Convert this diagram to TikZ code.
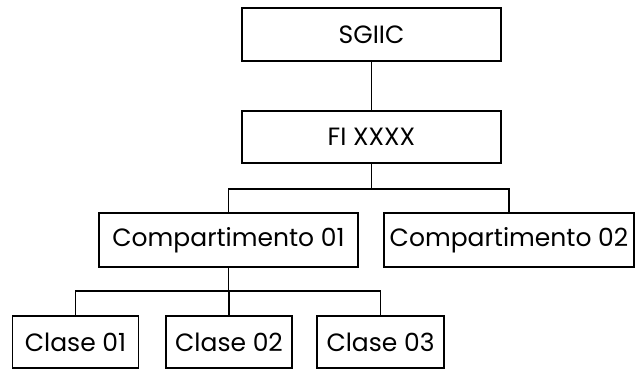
\documentclass[tikz,border=0pt]{standalone}
\usepackage{fontspec}
\setmainfont{Poppins}
\begin{document}
\begin{tikzpicture}[x=1pt,y=-1pt,
  box/.style={draw, line width=1.9pt, inner sep=0pt, anchor=center,
    font=\fontsize{25}{29}\selectfont},
  link/.style={line width=1.9pt}]
\useasboundingbox (0,0) rectangle (635,370);
% boxes
\node[box, minimum width=259pt, minimum height=53pt] (sgiic) at (371.5,34.5) {SGIIC};
\node[box, minimum width=259pt, minimum height=52pt] (fi) at (371.5,137) {FI XXXX};
\node[box, minimum width=259pt, minimum height=54pt] (c1) at (228.5,240) {Compartimento 01};
\node[box, minimum width=250pt, minimum height=54pt] (c2) at (509,240) {Compartimento 02};
\node[box, minimum width=126pt, minimum height=52pt] (k1) at (75.5,342) {Clase 01};
\node[box, minimum width=126pt, minimum height=52pt] (k2) at (229,342) {Clase 02};
\node[box, minimum width=127pt, minimum height=52pt] (k3) at (380.5,342) {Clase 03};
% bus points
\coordinate (bus1) at (371.5,189);
\coordinate (bus2) at (228.5,291);
% connectors
\draw[link] (sgiic.south) -- (fi.north);
\draw[link] (fi.south) -- (bus1);
\draw[link] (c1.north) |- (bus1) -| (c2.north);
\draw[link] (c1.south) -- (bus2);
\draw[link] (k1.north) |- (bus2) -| (k3.north);
\draw[link] (k2.north) -- (k2.north |- bus2);
\end{tikzpicture}
\end{document}
